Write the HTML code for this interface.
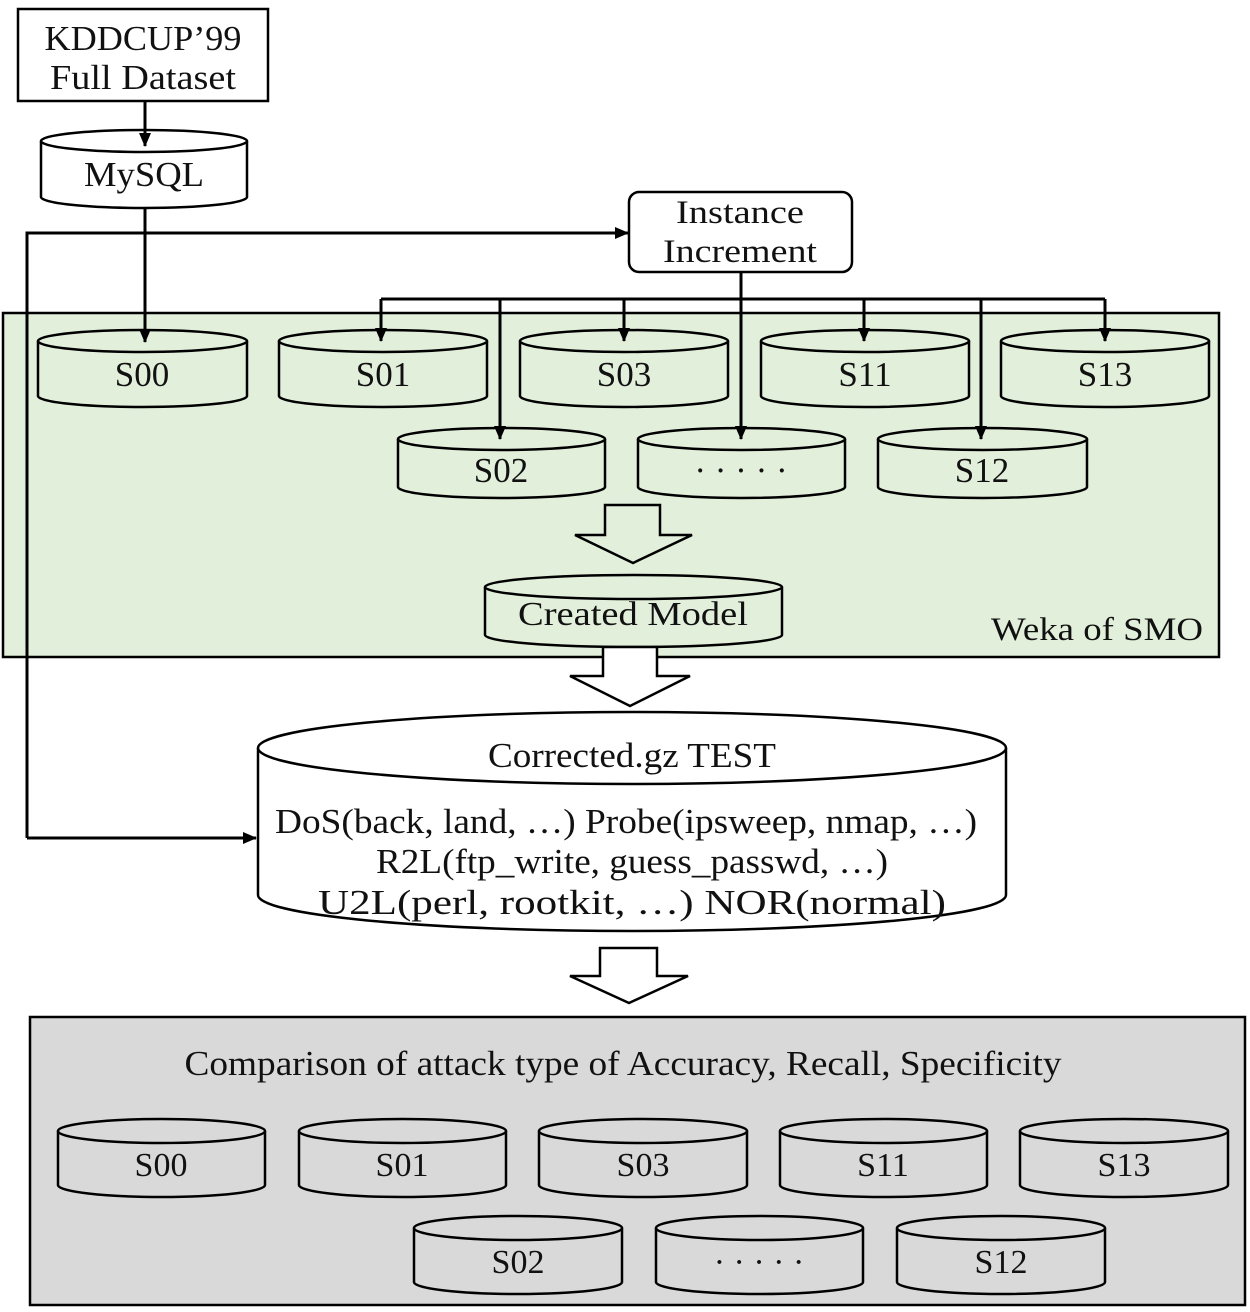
<!DOCTYPE html>
<html><head><meta charset="utf-8"><style>
html,body{margin:0;padding:0;background:#fff;}
svg{display:block;}
text{font-family:"Liberation Serif",serif;fill:#111;}
</style></head><body>
<svg width="1250" height="1312" viewBox="0 0 1250 1312" xmlns="http://www.w3.org/2000/svg">
<defs>
<marker id="ah" markerWidth="14" markerHeight="12" refX="13" refY="6" orient="auto" markerUnits="userSpaceOnUse">
<path d="M0,0 L14,6 L0,12 z" fill="#000"/>
</marker>
</defs>
<!-- green region -->
<rect x="3" y="313" width="1216" height="344" fill="#e2efda" stroke="#000" stroke-width="2.5"/>
<text x="1203" y="640" font-size="33" text-anchor="end" textLength="212" lengthAdjust="spacingAndGlyphs">Weka of SMO</text>
<!-- gray region -->
<rect x="30" y="1017" width="1215" height="288" fill="#d9d9d9" stroke="#000" stroke-width="2.5"/>
<text x="623" y="1075" font-size="35" text-anchor="middle" textLength="877" lengthAdjust="spacingAndGlyphs">Comparison of attack type of Accuracy, Recall, Specificity</text>

<!-- KDDCUP box -->
<rect x="18" y="9" width="250" height="92" fill="#fff" stroke="#000" stroke-width="2.5"/>
<text x="143" y="50" font-size="35" text-anchor="middle" textLength="197" lengthAdjust="spacingAndGlyphs">KDDCUP’99</text>
<text x="143" y="89" font-size="35" text-anchor="middle" textLength="186" lengthAdjust="spacingAndGlyphs">Full Dataset</text>

<g fill="#fff" stroke="#000" stroke-width="2.5">
<path d="M41,141 V197 A103,11 0 0 0 247,197 V141"/>
<ellipse cx="144" cy="141" rx="103" ry="11"/>
</g>
<text x="144" y="186" font-size="35" text-anchor="middle" textLength="120" lengthAdjust="spacingAndGlyphs">MySQL</text>

<!-- Instance Increment -->
<rect x="629" y="192" width="223" height="80" rx="10" fill="#fff" stroke="#000" stroke-width="2.5"/>
<text x="740" y="223" font-size="33" text-anchor="middle" textLength="128" lengthAdjust="spacingAndGlyphs">Instance</text>
<text x="740" y="262" font-size="33" text-anchor="middle" textLength="154" lengthAdjust="spacingAndGlyphs">Increment</text>

<g stroke="#000" stroke-width="3" fill="none">
<line x1="741" y1="272" x2="741" y2="299"/>
<line x1="381" y1="299" x2="1105" y2="299"/>
</g>

<!-- green cylinders -->
<g fill="#e2efda" stroke="#000" stroke-width="2.5">
<path d="M38,341 V396 A104.5,11 0 0 0 247,396 V341"/><ellipse cx="142.5" cy="341" rx="104.5" ry="11"/>
<path d="M279,341 V396 A104,11 0 0 0 487,396 V341"/><ellipse cx="383" cy="341" rx="104" ry="11"/>
<path d="M520,341 V396 A104,11 0 0 0 728,396 V341"/><ellipse cx="624" cy="341" rx="104" ry="11"/>
<path d="M761,341 V396 A104,11 0 0 0 969,396 V341"/><ellipse cx="865" cy="341" rx="104" ry="11"/>
<path d="M1001,341 V396 A104,11 0 0 0 1209,396 V341"/><ellipse cx="1105" cy="341" rx="104" ry="11"/>
<path d="M398,439 V487 A103.5,11 0 0 0 605,487 V439"/><ellipse cx="501.5" cy="439" rx="103.5" ry="11"/>
<path d="M638,439 V487 A103.5,11 0 0 0 845,487 V439"/><ellipse cx="741.5" cy="439" rx="103.5" ry="11"/>
<path d="M878,439 V487 A104.5,11 0 0 0 1087,487 V439"/><ellipse cx="982.5" cy="439" rx="104.5" ry="11"/>
<path d="M485,587 V635 A148.5,12 0 0 0 782,635 V587"/><ellipse cx="633.5" cy="587" rx="148.5" ry="12"/>
</g>
<g font-size="35" text-anchor="middle">
<text x="142" y="386">S00</text>
<text x="383" y="386">S01</text>
<text x="624" y="386">S03</text>
<text x="865" y="386">S11</text>
<text x="1105" y="386">S13</text>
<text x="501" y="482">S02</text>
<text x="741" y="482">· · · · ·</text>
<text x="982" y="482">S12</text>
<text x="633" y="625" font-size="34" textLength="230" lengthAdjust="spacingAndGlyphs">Created Model</text>
</g>

<!-- connectors (drawn over shapes) -->
<g stroke="#000" stroke-width="3" fill="none">
<line x1="145" y1="101" x2="145" y2="146" marker-end="url(#ah)"/>
<line x1="145" y1="208" x2="145" y2="342" marker-end="url(#ah)"/>
<polyline points="27,838 27,233 628,233" marker-end="url(#ah)"/>
<line x1="27" y1="838" x2="256" y2="838" marker-end="url(#ah)"/>
<line x1="381" y1="299" x2="381" y2="341" marker-end="url(#ah)"/>
<line x1="624" y1="299" x2="624" y2="341" marker-end="url(#ah)"/>
<line x1="864" y1="299" x2="864" y2="341" marker-end="url(#ah)"/>
<line x1="1105" y1="299" x2="1105" y2="341" marker-end="url(#ah)"/>
<line x1="500" y1="299" x2="500" y2="439" marker-end="url(#ah)"/>
<line x1="741" y1="299" x2="741" y2="439" marker-end="url(#ah)"/>
<line x1="981" y1="299" x2="981" y2="439" marker-end="url(#ah)"/>
</g>

<!-- hollow arrows -->
<g fill="#fff" stroke="#000" stroke-width="2.5">
<path d="M605,505 H660 V535 H692 L633,563 L575,535 H605 Z" fill="#e2efda"/>
<path d="M603,647 H657 V676 H690 L630,706 L570,676 H603 Z"/>
<path d="M600,948 H657 V976 H688 L629,1003 L570,976 H600 Z"/>
</g>

<!-- Corrected cylinder -->
<g fill="#fff" stroke="#000" stroke-width="2.5">
<path d="M258,748 V895 A374,36 0 0 0 1006,895 V748"/>
<ellipse cx="632" cy="748" rx="374" ry="36"/>
</g>
<g font-size="35" text-anchor="middle">
<text x="632" y="767" textLength="288" lengthAdjust="spacingAndGlyphs">Corrected.gz TEST</text>
<text x="626" y="833" textLength="702" lengthAdjust="spacingAndGlyphs">DoS(back, land, …) Probe(ipsweep, nmap, …)</text>
<text x="632" y="873" textLength="512" lengthAdjust="spacingAndGlyphs">R2L(ftp_write, guess_passwd, …)</text>
<text x="632" y="914" textLength="628" lengthAdjust="spacingAndGlyphs">U2L(perl, rootkit, …) NOR(normal)</text>
</g>

<!-- gray cylinders -->
<g fill="#d9d9d9" stroke="#000" stroke-width="2.5">
<path d="M58,1131 V1185 A103.5,12 0 0 0 265,1185 V1131"/><ellipse cx="161.5" cy="1131" rx="103.5" ry="12"/>
<path d="M299,1131 V1185 A103.5,12 0 0 0 506,1185 V1131"/><ellipse cx="402.5" cy="1131" rx="103.5" ry="12"/>
<path d="M539,1131 V1185 A104,12 0 0 0 747,1185 V1131"/><ellipse cx="643" cy="1131" rx="104" ry="12"/>
<path d="M780,1131 V1185 A103.5,12 0 0 0 987,1185 V1131"/><ellipse cx="883.5" cy="1131" rx="103.5" ry="12"/>
<path d="M1020,1131 V1185 A104,12 0 0 0 1228,1185 V1131"/><ellipse cx="1124" cy="1131" rx="104" ry="12"/>
<path d="M414,1228 V1282 A104,12 0 0 0 622,1282 V1228"/><ellipse cx="518" cy="1228" rx="104" ry="12"/>
<path d="M656,1228 V1282 A103.5,12 0 0 0 863,1282 V1228"/><ellipse cx="759.5" cy="1228" rx="103.5" ry="12"/>
<path d="M897,1228 V1282 A104,12 0 0 0 1105,1282 V1228"/><ellipse cx="1001" cy="1228" rx="104" ry="12"/>
</g>
<g font-size="34" text-anchor="middle">
<text x="161" y="1176">S00</text>
<text x="402" y="1176">S01</text>
<text x="643" y="1176">S03</text>
<text x="883" y="1176">S11</text>
<text x="1124" y="1176">S13</text>
<text x="518" y="1273">S02</text>
<text x="759" y="1273">· · · · ·</text>
<text x="1001" y="1273">S12</text>
</g>
</svg>
</body></html>
